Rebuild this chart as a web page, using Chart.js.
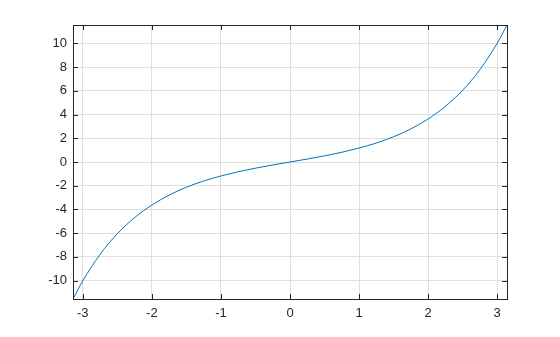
<!DOCTYPE html>
<html>
<head>
<meta charset="utf-8">
<script src="https://cdn.jsdelivr.net/npm/chart.js@4/dist/chart.umd.min.js"></script>
<style>
    html, body { margin: 0; padding: 0; background: #fff; }
    #wrap { width: 560px; height: 337px; position: relative; }
</style>
</head>
<body>
<div id="wrap"><canvas id="chart"></canvas></div>
<script>
const xValues = [-3.1416, -3, -2.75, -2.5, -2.25, -2, -1.75, -1.5, -1.25, -1, -0.75, -0.5, -0.25, 0,
    0.25, 0.5, 0.75, 1, 1.25, 1.5, 1.75, 2, 2.25, 2.5, 2.75, 3, 3.1416];
const yValues = [-11.55, -10.02, -7.79, -6.05, -4.69, -3.63, -2.79, -2.13, -1.60, -1.18, -0.82, -0.52, -0.25, 0,
    0.25, 0.52, 0.82, 1.18, 1.60, 2.13, 2.79, 3.63, 4.69, 6.05, 7.79, 10.02, 11.55];
const xTicks = [-3, -2, -1, 0, 1, 2, 3];
const yTicks = [-10, -8, -6, -4, -2, 0, 2, 4, 6, 8, 10];
const xRange = [-3.1416, 3.1416];
const yRange = [-11.55, 11.55];

const boxPlugin = {
    id: 'box',
    afterDraw(chart) {
        const { ctx, chartArea: a, scales } = chart;
        ctx.save();
        ctx.strokeStyle = '#262626';
        ctx.lineWidth = 1;
        ctx.beginPath();
        xTicks.forEach((v) => {
            const x = Math.round(scales.x.getPixelForValue(v)) + 0.5;
            ctx.moveTo(x, a.bottom); ctx.lineTo(x, a.bottom - 5);
            ctx.moveTo(x, a.top); ctx.lineTo(x, a.top + 5);
        });
        yTicks.forEach((v) => {
            const y = Math.round(scales.y.getPixelForValue(v)) + 0.5;
            ctx.moveTo(a.left, y); ctx.lineTo(a.left + 5, y);
            ctx.moveTo(a.right, y); ctx.lineTo(a.right - 5, y);
        });
        ctx.stroke();
        ctx.strokeRect(Math.round(a.left) + 0.5, Math.round(a.top) + 0.5,
            Math.round(a.right - a.left), Math.round(a.bottom - a.top));
        ctx.restore();
    },
};

new Chart(document.getElementById('chart'), {
    type: 'scatter',
    data: {
        datasets: [{
            data: xValues.map((x, i) => ({ x, y: yValues[i] })),
            showLine: true,
            borderColor: '#0072BD',
            borderWidth: 1,
            pointRadius: 0,
            cubicInterpolationMode: 'monotone',
        }],
    },
    options: {
        responsive: true,
        maintainAspectRatio: false,
        animation: false,
        layout: { padding: { left: 0, right: 53, top: 25, bottom: 0 } },
        plugins: { legend: { display: false }, tooltip: { enabled: false } },
        scales: {
            x: {
                type: 'linear',
                min: xRange[0],
                max: xRange[1],
                afterBuildTicks: (s) => { s.ticks = xTicks.map((v) => ({ value: v })); },
                afterFit: (s) => { s.height = 38; },
                grid: { color: '#dfdfdf', drawTicks: false },
                border: { display: false },
                ticks: { color: '#262626', padding: 7, font: { family: 'Liberation Sans', size: 13 } },
            },
            y: {
                type: 'linear',
                min: yRange[0],
                max: yRange[1],
                afterBuildTicks: (s) => { s.ticks = yTicks.map((v) => ({ value: v })); },
                afterFit: (s) => { s.width = 73; },
                grid: { color: '#dfdfdf', drawTicks: false },
                border: { display: false },
                ticks: { color: '#262626', padding: 6, font: { family: 'Liberation Sans', size: 13 } },
            },
        },
    },
    plugins: [boxPlugin],
});
</script>
</body>
</html>
